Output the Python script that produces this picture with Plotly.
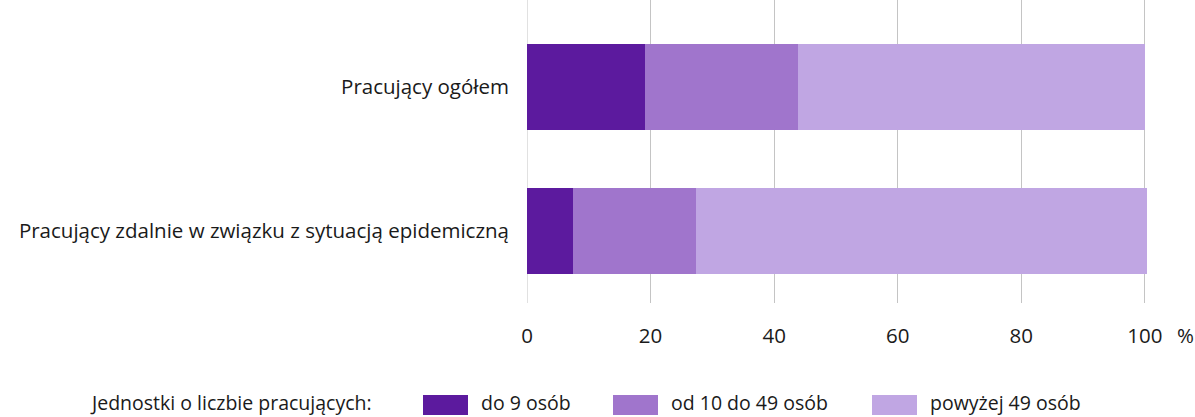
import plotly.graph_objects as go

categories = ["Pracujący ogółem", "Pracujący zdalnie w związku z sytuacją epidemiczną"]
series_names = ["do 9 osób", "od 10 do 49 osób", "powyżej 49 osób"]
small = [19.1, 7.4]
medium = [24.8, 19.9]
large = [56.1, 73.0]
series_values = [small, medium, large]
colors = ["#5C1A9E", "#A075CC", "#C0A6E3"]
x_ticks = [0, 20, 40, 60, 80, 100]
legend_title = "Jednostki o liczbie pracujących:"

W, H = 1195, 417
L, R, T, B = 527, 47, 0, 114
PW = W - L - R
PH = H - T - B
FONT = "Open Sans"
FS = 20.5
LFS = 19.5

def px(x):
    return (x - L) / PW

def py(y):
    return 1 - (y - T) / PH

fig = go.Figure()
for name, vals, col in zip(series_names, series_values, colors):
    fig.add_trace(go.Bar(
        y=categories, x=vals, name=name, orientation="h",
        marker=dict(color=col, line=dict(width=0)),
        width=0.6, showlegend=False,
    ))

fig.update_layout(
    barmode="stack",
    width=W, height=H,
    margin=dict(l=L, r=R, t=T, b=B, pad=0),
    plot_bgcolor="white", paper_bgcolor="white",
    font=dict(family=FONT, size=FS, color="#1A1A1A"),
    xaxis=dict(range=[0, 100.5], tickvals=x_ticks, showgrid=True,
               gridcolor="#C4C4C4", gridwidth=1, zeroline=False,
               showline=False, ticks="", ticklabelstandoff=18,
               tickfont=dict(size=FS)),
    yaxis=dict(range=[1.5, -0.604], showgrid=False, zeroline=False,
               showline=False, ticks="", ticklabelstandoff=17,
               tickfont=dict(size=FS)),
)

# zero line as gridline
fig.add_shape(type="line", xref="x", yref="paper", x0=0, x1=0, y0=0, y1=1,
              line=dict(color="#C4C4C4", width=1), layer="below")

fig.add_annotation(text="%", xref="paper", yref="paper", x=px(1185), y=py(335),
                   showarrow=False, xanchor="center", yanchor="middle",
                   font=dict(size=FS))

# custom legend
ly = 402
fig.add_annotation(text=legend_title, xref="paper", yref="paper",
                   x=px(89), y=py(ly), xanchor="left", yanchor="middle",
                   showarrow=False, font=dict(size=LFS), borderpad=0)
sw_x = [423, 613, 872]
for name, col, x0 in zip(series_names, colors, sw_x):
    fig.add_shape(type="rect", xref="paper", yref="paper",
                  x0=px(x0), x1=px(x0 + 45), y0=py(ly + 13), y1=py(ly - 7),
                  fillcolor=col, line=dict(width=0))
    fig.add_annotation(text=name, xref="paper", yref="paper",
                       x=px(x0 + 57), y=py(ly), xanchor="left", yanchor="middle",
                       showarrow=False, font=dict(size=LFS), borderpad=0)

fig.write_html("out.html", config={"displayModeBar": False},
               post_script="document.body.style.margin='0px';document.body.style.overflow='hidden';")
